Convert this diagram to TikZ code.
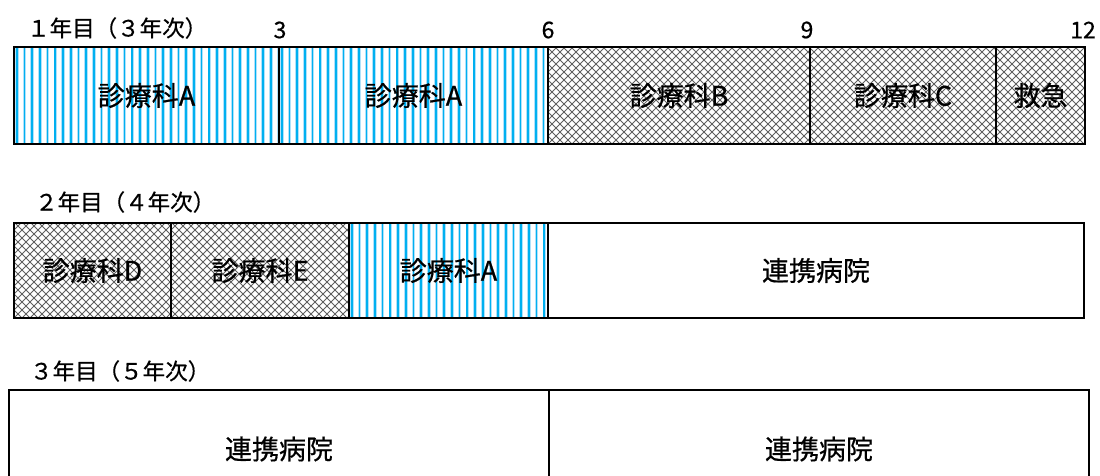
\documentclass[tikz,border=0pt]{standalone}
\usepackage{fontspec}
\setmainfont{Noto Sans CJK JP}
\newfontfamily\cellfont{Noto Sans CJK JP}[FakeBold=0.6]
\definecolor{stripeblue}{RGB}{0,176,240}
\definecolor{stripehalo}{RGB}{175,225,250}
\definecolor{hatchc}{RGB}{95,95,95}
\begin{document}
\begin{tikzpicture}[x=1pt,y=-1pt,
  cell/.style={draw=black, line width=2pt, rectangle, anchor=north west, inner sep=0pt,
    font=\cellfont\fontsize{27}{30}\selectfont},
  lbl/.style={anchor=west, inner sep=0pt, font=\cellfont\fontsize{22.5}{26}\selectfont},
  num/.style={inner sep=0pt, font=\cellfont\fontsize{23}{26}\selectfont},
  vstripes/.style={path picture={
    \foreach \i in {0,...,40}{
      \draw[stripehalo, line width=3.6pt] ([xshift=2.8pt+\i*7.7pt]path picture bounding box.south west) -- ++(0pt,150pt);
      \draw[stripeblue, line width=1.7pt] ([xshift=2.8pt+\i*7.7pt]path picture bounding box.south west) -- ++(0pt,150pt);
    }}},
  xhatch/.style={path picture={
    \foreach \i in {-17,...,50}{
      \draw[hatchc, line width=0.85pt] ([xshift=\i*8pt]path picture bounding box.south west) -- ++(130pt,130pt);
      \draw[hatchc, line width=0.85pt] ([xshift=\i*8pt]path picture bounding box.south west) -- ++(-130pt,130pt);
    }}}
]
\useasboundingbox (0,0) rectangle (1100,476);

% year labels and month numbers
\node[lbl] (y1) at (27,28) {１年目（３年次）};
\node[num] (m3) at (280,30) {3};
\node[num] (m6) at (548,30) {6};
\node[num] (m9) at (807,30) {9};
\node[num, anchor=east] (m12) at (1096,30) {12};

% row 1
\node[cell, vstripes, minimum width=265pt, minimum height=97pt] (r1a) at (13,46) {診療科A};
\node[cell, vstripes, minimum width=269pt, minimum height=97pt] (r1b) at (278,46) {診療科A};
\node[cell, xhatch, minimum width=262pt, minimum height=97pt] (r1c) at (547,46) {診療科B};
\node[cell, xhatch, minimum width=186pt, minimum height=97pt] (r1d) at (809,46) {診療科C};
\node[cell, xhatch, minimum width=89pt, minimum height=97pt] (r1e) at (995,46) {救急};

% row 2
\node[lbl] (y2) at (35,202) {２年目（４年次）};
\node[cell, xhatch, minimum width=157pt, minimum height=95pt] (r2a) at (13,222) {診療科D};
\node[cell, xhatch, minimum width=178pt, minimum height=95pt] (r2b) at (170,222) {診療科E};
\node[cell, vstripes, minimum width=199pt, minimum height=95pt] (r2c) at (348,222) {診療科A};
\node[cell, minimum width=536pt, minimum height=95pt] (r2d) at (547,222) {連携病院};

% row 3
\node[lbl] (y3) at (30,371) {３年目（５年次）};
\node[cell, minimum width=540pt, minimum height=118pt] (r3a) at (8,389) {連携病院};
\node[cell, minimum width=540pt, minimum height=118pt] (r3b) at (548,389) {連携病院};
\end{tikzpicture}
\end{document}
